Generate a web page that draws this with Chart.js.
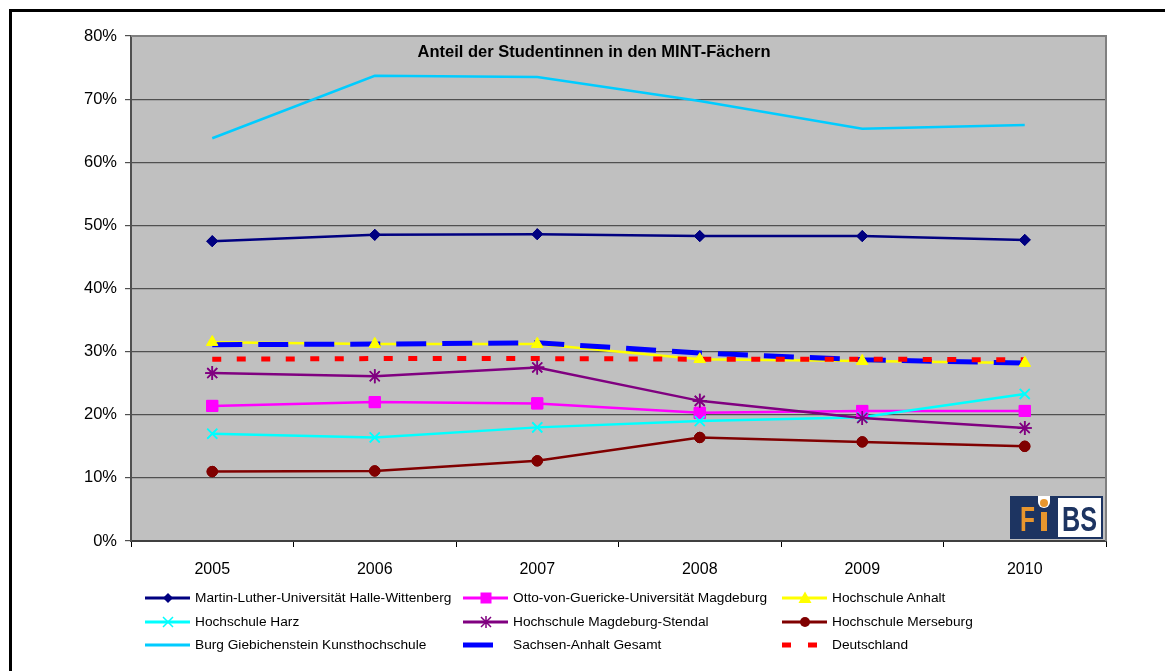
<!DOCTYPE html>
<html>
<head>
<meta charset="utf-8">
<script src="https://cdn.jsdelivr.net/npm/chart.js@4.4.1/dist/chart.umd.min.js"></script>
<style>
  html, body { margin: 0; padding: 0; background: #fff; }
  #wrap { position: relative; width: 1165px; height: 671px; overflow: hidden; font-family: "Liberation Sans", Arial, sans-serif; }
  #frame { position: absolute; left: 9px; top: 9px; width: 1200px; height: 700px; border-left: 3px solid #000; border-top: 3px solid #000; box-sizing: border-box; pointer-events: none; }
  canvas { position: absolute; left: 0; top: 0; }
  .lg { position: absolute; font-size: 13.7px; color: #000; line-height: 16px; white-space: nowrap; }
  .sym { position: absolute; }
</style>
</head>
<body>
<div id="wrap">
  <canvas id="c" width="1165" height="671"></canvas>
  <div id="frame"></div>
  <div id="legend"></div>
</div>
<script>
const categories = ["2005", "2006", "2007", "2008", "2009", "2010"];

const mluHalle      = [47.5, 48.5, 48.6, 48.3, 48.3, 47.7];
const ovguMagdeburg = [21.4, 22.0, 21.8, 20.3, 20.6, 20.6];
const hsAnhalt      = [31.5, 31.2, 31.2, 28.8, 28.5, 28.2];
const hsHarz        = [17.0, 16.4, 18.0, 19.0, 19.6, 23.3];
const hsMagdeburgStendal = [26.6, 26.1, 27.5, 22.2, 19.5, 17.9];
const hsMerseburg   = [11.0, 11.1, 12.7, 16.4, 15.7, 15.0];
const burgGiebichenstein = [63.8, 73.7, 73.5, 69.7, 65.3, 65.9];
const sachsenAnhalt = [31.1, 31.2, 31.4, 29.8, 28.7, 28.2];
const deutschland   = [28.8, 28.9, 28.9, 28.8, 28.8, 28.7];

const yTicks = [0, 10, 20, 30, 40, 50, 60, 70, 80];
const titleText = "Anteil der Studentinnen in den MINT-Fächern";

const series = [
  { label: "Martin-Luther-Universität Halle-Wittenberg", data: mluHalle, color: "#000080", point: "rectRot", r: 5.5, w: 2.5 },
  { label: "Otto-von-Guericke-Universität Magdeburg", data: ovguMagdeburg, color: "#FF00FF", point: "rect", r: 7.8, w: 2.5 },
  { label: "Hochschule Anhalt", data: hsAnhalt, color: "#FFFF00", point: "triangle", r: 6.5, w: 2.5 },
  { label: "Hochschule Harz", data: hsHarz, color: "#00FFFF", point: "crossRot", r: 7, w: 2.5 },
  { label: "Hochschule Magdeburg-Stendal", data: hsMagdeburgStendal, color: "#800080", point: "star", r: 7, w: 2.5 },
  { label: "Hochschule Merseburg", data: hsMerseburg, color: "#800000", point: "circle", r: 5.2, w: 2.5 },
  { label: "Burg Giebichenstein Kunsthochschule", data: burgGiebichenstein, color: "#00CCFF", point: "circle", r: 0, w: 2.5 },
  { label: "Sachsen-Anhalt Gesamt", data: sachsenAnhalt, color: "#0000FF", point: "circle", r: 0, w: 5, dash: [30, 16] },
  { label: "Deutschland", data: deutschland, color: "#FF0000", point: "circle", r: 0, w: 5, dash: [9, 15.5] }
];

const datasets = series.map((s, i) => ({
  label: s.label,
  data: s.data,
  borderColor: s.color,
  backgroundColor: s.color,
  borderWidth: s.w,
  borderDash: s.dash || [],
  pointStyle: s.point,
  pointRadius: s.r,
  pointHoverRadius: s.r,
  pointBorderWidth: s.point === "crossRot" || s.point === "star" ? 1.6 : 1,
  pointBorderColor: s.color,
  pointBackgroundColor: s.color,
  tension: 0,
  fill: false,
  order: series.length - i
}));

const bgPlugin = {
  id: "bg",
  beforeDraw(chart) {
    const { ctx, chartArea: a } = chart;
    ctx.save();
    ctx.fillStyle = "#C0C0C0";
    ctx.fillRect(a.left, a.top, a.right - a.left, a.bottom - a.top);
    ctx.restore();
  },
  afterDatasetsDraw(chart) {
    const { ctx, chartArea: a } = chart;
    // markers on top of all lines, later series above earlier ones
    for (let i = 0; i < chart.data.datasets.length; i++) {
      const meta = chart.getDatasetMeta(i);
      if (!meta.data) continue;
      meta.data.forEach(p => p.draw(ctx, a));
    }
    ctx.save();
    // plot border top/right
    ctx.strokeStyle = "#808080";
    ctx.lineWidth = 2;
    ctx.beginPath();
    ctx.moveTo(a.left, a.top);
    ctx.lineTo(a.right, a.top);
    ctx.lineTo(a.right, a.bottom);
    ctx.stroke();
    // title
    ctx.fillStyle = "#000";
    ctx.font = "bold 16.5px 'Liberation Sans', Arial, sans-serif";
    ctx.textAlign = "center";
    ctx.textBaseline = "middle";
    ctx.fillText(titleText, 594, 52);
    // logo
    const lx = a.right - 96, ly = a.bottom - 45;
    ctx.fillStyle = "#1d3461";
    ctx.fillRect(lx, ly, 93, 43);
    ctx.fillStyle = "#fff";
    ctx.fillRect(lx + 48, ly + 2, 43, 39);
    ctx.beginPath();
    ctx.moveTo(lx + 28, ly);
    ctx.lineTo(lx + 40, ly);
    ctx.lineTo(lx + 40, ly + 6);
    ctx.arc(lx + 34, ly + 6, 6, 0, Math.PI);
    ctx.closePath();
    ctx.fill();
    ctx.fillStyle = "#E8962E";
    ctx.beginPath();
    ctx.arc(lx + 34, ly + 7, 4, 0, Math.PI * 2);
    ctx.fill();
    ctx.save();
    ctx.translate(lx + 10, ly + 35);
    ctx.scale(0.7, 1);
    ctx.font = "bold 35px 'Liberation Sans', Arial, sans-serif";
    ctx.textAlign = "left";
    ctx.textBaseline = "alphabetic";
    ctx.fillText("F", 0, 0);
    ctx.restore();
    ctx.fillRect(lx + 31, ly + 16, 6, 19);
    ctx.save();
    ctx.translate(lx + 52, ly + 35);
    ctx.scale(0.72, 1);
    ctx.fillStyle = "#1d3461";
    ctx.font = "bold 35px 'Liberation Sans', Arial, sans-serif";
    ctx.textAlign = "left";
    ctx.textBaseline = "alphabetic";
    ctx.fillText("BS", 0, 0);
    ctx.restore();
    ctx.restore();
  }
};

new Chart(document.getElementById("c"), {
  type: "line",
  data: { labels: categories, datasets },
  options: {
    responsive: false,
    animation: false,
    events: [],
    layout: { padding: { left: 0, top: 36, right: 59, bottom: 0 } },
    plugins: { legend: { display: false }, title: { display: false }, tooltip: { enabled: false } },
    scales: {
      x: {
        offset: true,
        grid: { offset: true, drawOnChartArea: false, drawTicks: true, tickLength: 6, color: "#000", lineWidth: 1 },
        border: { color: "#404040", width: 2 },
        ticks: { color: "#000", padding: 13, font: { size: 16, family: "'Liberation Sans', Arial, sans-serif" }, maxRotation: 0 },
        afterFit(s) { s.height = 130; }
      },
      y: {
        min: 0, max: 80,
        afterBuildTicks(s) { s.ticks = yTicks.map(v => ({ value: v })); },
        grid: { color: "#505050", lineWidth: 1.2, tickLength: 6, drawTicks: true },
        border: { color: "#505050", width: 2 },
        ticks: { color: "#000", padding: 8, font: { size: 16.5, family: "'Liberation Sans', Arial, sans-serif" }, callback: v => v + "%" },
        afterFit(s) { s.width = 131; }
      }
    }
  },
  plugins: [bgPlugin]
});

// HTML legend
const legendPos = [
  [145, 598], [463, 598], [782, 598],
  [145, 622], [463, 622], [782, 622],
  [145, 645], [463, 645], [782, 645]
];
const legend = document.getElementById("legend");
function markerSvg(s) {
  const cx = 23, cy = 8, c = s.color;
  switch (s.point) {
    case "rectRot": return `<polygon points="${cx},${cy-5} ${cx+5},${cy} ${cx},${cy+5} ${cx-5},${cy}" fill="${c}"/>`;
    case "rect": return `<rect x="${cx-5.5}" y="${cy-5.5}" width="11" height="11" fill="${c}"/>`;
    case "triangle": return `<polygon points="${cx},${cy-6.5} ${cx+6.5},${cy+5} ${cx-6.5},${cy+5}" fill="${c}"/>`;
    case "crossRot": return `<path d="M${cx-5},${cy-5}L${cx+5},${cy+5}M${cx+5},${cy-5}L${cx-5},${cy+5}" stroke="${c}" stroke-width="1.5"/>`;
    case "star": return `<path d="M${cx-5},${cy-5}L${cx+5},${cy+5}M${cx+5},${cy-5}L${cx-5},${cy+5}M${cx},${cy-6}L${cx},${cy+6}" stroke="${c}" stroke-width="1.5"/>`;
    case "circle": return s.r ? `<circle cx="${cx}" cy="${cy}" r="5" fill="${c}"/>` : "";
  }
  return "";
}
series.forEach((s, i) => {
  const [x, y] = legendPos[i];
  let line;
  if (s.dash && s.dash[0] > 20) line = `<line x1="0" y1="8" x2="30" y2="8" stroke="${s.color}" stroke-width="5"/>`;
  else if (s.dash) line = `<line x1="0" y1="8" x2="9" y2="8" stroke="${s.color}" stroke-width="5"/><line x1="26" y1="8" x2="35" y2="8" stroke="${s.color}" stroke-width="5"/>`;
  else line = `<line x1="0" y1="8" x2="45" y2="8" stroke="${s.color}" stroke-width="3"/>`;
  const svg = document.createElement("div");
  svg.className = "sym";
  svg.style.left = x + "px";
  svg.style.top = (y - 8) + "px";
  svg.innerHTML = `<svg width="46" height="16" xmlns="http://www.w3.org/2000/svg">${line}${markerSvg(s)}</svg>`;
  legend.appendChild(svg);
  const t = document.createElement("div");
  t.className = "lg";
  t.style.left = (x + 50) + "px";
  t.style.top = (y - 8) + "px";
  t.textContent = s.label;
  legend.appendChild(t);
});
</script>
</body>
</html>
